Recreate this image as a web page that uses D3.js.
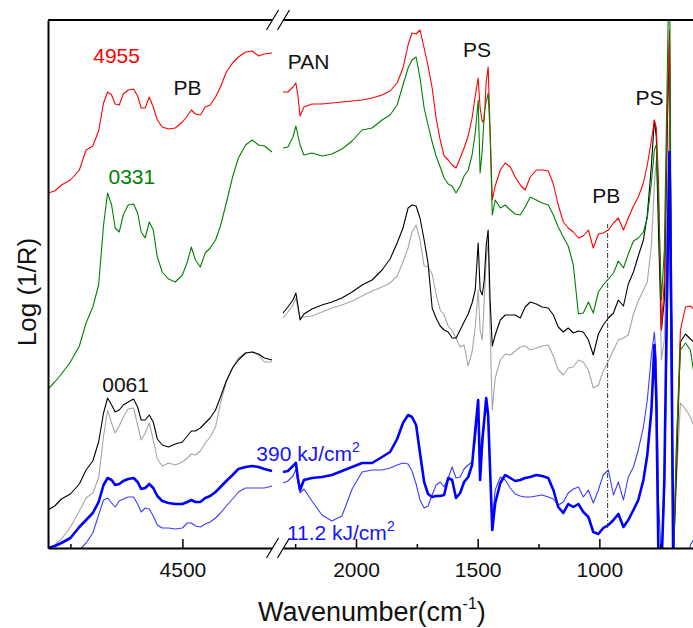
<!DOCTYPE html>
<html>
<head>
<meta charset="utf-8">
<script src="https://cdn.jsdelivr.net/npm/d3@7"></script>
<style>
  body { margin: 0; background: #fff; }
  svg { display: block; font-family: Arial, "Liberation Sans", sans-serif; }
</style>
</head>
<body>
<svg id="chart" width="693" height="628"></svg>
<script>
// wavenumber grids (cm-1) for the two parts of the broken axis
var wnLeft = [4800, 4785, 4770, 4750, 4730, 4715, 4700, 4687, 4676, 4667, 4658, 4650, 4641, 4632, 4621, 4609, 4600, 4592, 4583, 4574, 4565, 4556, 4545, 4531, 4516, 4500, 4489, 4480, 4471, 4460, 4449, 4438, 4426, 4415, 4402, 4388, 4375, 4359, 4344, 4330, 4317, 4300];
var wnRight = [2300, 2280, 2259, 2247, 2239, 2230, 2214, 2181, 2140, 2099, 2058, 2016, 1975, 1934, 1893, 1860, 1831, 1807, 1786, 1770, 1753, 1737, 1720, 1704, 1687, 1671, 1654, 1638, 1621, 1605, 1589, 1572, 1556, 1539, 1523, 1510, 1498, 1490, 1481, 1473, 1465, 1457, 1449, 1440, 1428, 1407, 1387, 1366, 1346, 1325, 1305, 1284, 1259, 1235, 1210, 1189, 1169, 1148, 1128, 1107, 1086, 1066, 1045, 1025, 1004, 984, 963, 942, 922, 901, 881, 860, 840, 819, 803, 786, 774, 766, 757, 745, 733, 720, 712, 704, 696, 683, 667, 646, 626, 601];

// Log(1/R), stacked, arbitrary units (x1000)
var red4955L = [355, 357, 363, 368, 378, 398, 402, 417, 445, 456, 453, 444, 443, 454, 458, 459, 452, 440, 440, 451, 441, 428, 421, 419, 420, 426, 432, 438, 434, 433, 441, 443, 451, 461, 476, 485, 491, 496, 497, 492, 494, 495];
var green0331L = [159, 166, 174, 186, 202, 225, 241, 263, 323, 355, 343, 320, 316, 333, 343, 344, 335, 316, 310, 326, 318, 291, 276, 269, 266, 273, 286, 301, 288, 281, 295, 300, 308, 322, 345, 371, 390, 403, 408, 403, 402, 396];
var black0061L = [38, 42, 49, 54, 64, 78, 87, 106, 135, 150, 143, 136, 138, 143, 146, 149, 141, 128, 128, 133, 126, 109, 103, 101, 104, 106, 112, 117, 117, 120, 125, 130, 138, 151, 167, 180, 188, 195, 196, 194, 190, 188];
var gray0061L = [0, 3, 9, 21, 37, 50, 55, 70, 112, 138, 125, 115, 122, 131, 139, 140, 123, 108, 115, 125, 108, 89, 82, 85, 83, 86, 90, 94, 93, 97, 105, 111, 121, 145, 166, 181, 190, 195, 196, 193, 186, 186];
var blue390L = [0, 2, 5, 10, 21, 28, 35, 46, 63, 70, 68, 63, 64, 67, 69, 70, 66, 59, 60, 64, 60, 52, 47, 45, 44, 44, 46, 48, 46, 46, 50, 52, 56, 61, 67, 73, 79, 81, 82, 81, 79, 77];
var blue11L = [-20, -15, -10, -6, -2, 5, 15, 33, 48, 50, 45, 41, 47, 49, 51, 51, 44, 36, 40, 39, 32, 23, 20, 20, 19, 20, 25, 25, 22, 21, 24, 26, 30, 35, 42, 49, 56, 60, 60, 60, 60, 62];

var red4955R = [456, 456, 461, 465, 453, 432, 441, 444, 444, 445, 446, 447, 448, 450, 453, 457, 465, 480, 503, 515, 514, 518, 500, 482, 460, 430, 408, 392, 388, 383, 380, 390, 400, 412, 430, 452, 470, 440, 426, 428, 466, 481, 418, 348, 362, 378, 385, 381, 371, 363, 358, 371, 378, 378, 377, 364, 343, 326, 320, 316, 310, 312, 318, 300, 314, 315, 318, 325, 330, 318, 330, 342, 351, 365, 383, 408, 428, 420, 368, 218, 268, 448, 518, 248, -12, 98, 218, 241, 242, 236];
var green0331R = [400, 401, 411, 422, 413, 403, 393, 395, 392, 394, 399, 407, 418, 420, 428, 433, 443, 463, 480, 488, 491, 470, 440, 423, 406, 392, 381, 370, 364, 362, 355, 362, 372, 378, 393, 415, 448, 375, 398, 435, 446, 455, 415, 333, 348, 340, 343, 338, 334, 333, 341, 351, 348, 345, 343, 333, 321, 311, 302, 283, 234, 235, 246, 235, 256, 263, 269, 275, 287, 280, 294, 307, 310, 316, 330, 366, 398, 403, 348, 248, 298, 488, 608, 248, -12, 108, 198, 205, 198, 158];
var black0061R = [235, 241, 248, 255, 243, 228, 234, 239, 243, 246, 250, 256, 263, 268, 278, 289, 305, 320, 340, 343, 342, 330, 308, 285, 240, 230, 222, 218, 216, 210, 210, 218, 226, 234, 245, 258, 305, 258, 253, 268, 303, 318, 248, 202, 213, 228, 233, 233, 233, 230, 241, 246, 244, 241, 240, 233, 221, 216, 220, 215, 217, 216, 208, 193, 214, 223, 230, 235, 248, 242, 264, 276, 292, 308, 333, 383, 428, 411, 318, 218, 248, 428, 508, 248, -12, 78, 206, 214, 209, 203];
var gray0061R = [230, 236, 243, 250, 240, 231, 231, 232, 236, 240, 243, 247, 252, 257, 261, 265, 272, 286, 300, 316, 323, 308, 282, 281, 274, 254, 238, 233, 222, 217, 210, 201, 203, 182, 196, 221, 258, 218, 208, 248, 288, 308, 218, 138, 170, 188, 194, 193, 197, 201, 202, 198, 200, 202, 203, 192, 178, 173, 180, 181, 188, 186, 178, 160, 163, 177, 187, 198, 208, 210, 213, 234, 247, 258, 266, 303, 363, 388, 328, 188, 208, 348, 428, 198, -12, 68, 145, 139, 131, 116];
var blue390R = [76, 77, 82, 85, 70, 58, 68, 70, 71, 73, 77, 81, 85, 85, 91, 96, 109, 125, 133, 131, 123, 95, 66, 54, 51, 52, 52, 53, 70, 68, 50, 55, 66, 71, 83, 118, 148, 68, 108, 128, 150, 133, 78, 18, 45, 65, 73, 70, 67, 68, 70, 71, 73, 72, 70, 58, 41, 35, 44, 41, 44, 36, 31, 16, 14, 20, 23, 28, 34, 21, 28, 38, 48, 68, 93, 138, 203, 148, -12, -22, 68, 288, 396, 228, -32, -52, -52, -42, -12, 8];
var blue11R = [65, 67, 72, 79, 66, 55, 59, 47, 33, 27, 32, 59, 76, 78, 78, 80, 83, 85, 84, 77, 64, 48, 40, 42, 53, 63, 66, 61, 70, 81, 70, 71, 79, 83, 86, 108, 138, 78, 98, 128, 143, 128, 78, 28, 58, 71, 68, 60, 54, 52, 51, 51, 52, 53, 51, 49, 43, 46, 55, 59, 61, 51, 58, 45, 58, 73, 78, 53, 66, 48, 71, 81, 98, 121, 148, 193, 216, 188, 48, -12, 48, 248, 348, 148, -32, -52, -42, -22, 3, 13];

var majorLeft = [4500], minorLeft = [4750];
var majorRight = [2000, 1500, 1000], minorRight = [2250, 1750, 1250, 750];

// text labels: [text, part, wavenumber, value, colour]
var labels = [
  ["4955", "L", 4699, 485, "#ff0000"],
  ["PB", "L", 4520, 453, "#111"],
  ["0331", "L", 4665, 364, "#008000"],
  ["0061", "L", 4679, 156, "#111"],
  ["PAN", "R", 2280, 479, "#111"],
  ["PS", "R", 1560, 491, "#111"],
  ["PS", "R", 852, 443, "#111"],
  ["PB", "R", 1029, 345, "#111"]
];
var doseLabels = [
  ["390 kJ/cm", "L", 4335, 87],
  ["11.2 kJ/cm", "R", 2284, 8]
];
var pbBand = { wn: 966, from: 20, to: 324 };

var svg = d3.select("#chart");
var xL = d3.scaleLinear().domain([4800, 4300]).range([48, 272]);
var xR = d3.scaleLinear().domain([2300, 600]).range([283, 696.7]);
var y = d3.scaleLinear().domain([0, 528]).range([548, 20]);
var xOf = function (part) { return part == "L" ? xL : xR; };

svg.append("defs").append("clipPath").attr("id", "plot")
  .append("rect").attr("x", 48).attr("y", 20).attr("width", 660).attr("height", 528);

var series = [
  { l: gray0061L, r: gray0061R, color: "#a6a6a6", w: 1.1 },
  { l: black0061L, r: black0061R, color: "#000", w: 1.1 },
  { l: red4955L, r: red4955R, color: "#ff0000", w: 1.1 },
  { l: green0331L, r: green0331R, color: "#008000", w: 1.1 },
  { l: blue11L, r: blue11R, color: "#3d3dff", w: 1.1 },
  { l: blue390L, r: blue390R, color: "#0000ff", w: 2.6 }
];

var curves = svg.append("g").attr("clip-path", "url(#plot)");
series.forEach(function (s) {
  [[wnLeft, s.l, xL], [wnRight, s.r, xR]].forEach(function (p) {
    var line = d3.line().x(function (d) { return p[2](d[0]); }).y(function (d) { return y(d[1]); });
    curves.append("path")
      .datum(d3.zip(p[0], p[1]))
      .attr("d", line)
      .attr("fill", "none")
      .attr("stroke", s.color)
      .attr("stroke-width", s.w)
      .attr("stroke-linejoin", "round");
  });
});

// PB band marker
curves.append("line")
  .attr("x1", xR(pbBand.wn)).attr("x2", xR(pbBand.wn))
  .attr("y1", y(pbBand.from)).attr("y2", y(pbBand.to))
  .attr("stroke", "#333").attr("stroke-width", 1)
  .attr("stroke-dasharray", "5,2,1,2");

// axes
function bottomAxis(scale, major, minor) {
  var g = svg.append("g").attr("transform", "translate(0,548)");
  g.call(d3.axisBottom(scale).tickValues(major).tickSize(-9).tickSizeOuter(0)
    .tickPadding(14).tickFormat(d3.format("d")));
  g.append("g").call(d3.axisBottom(scale).tickValues(minor).tickSize(-4).tickSizeOuter(0).tickFormat(""))
    .select(".domain").remove();
  g.selectAll(".domain").attr("stroke-width", 2);
  g.selectAll(".tick line").attr("stroke-width", 1.5);
  g.selectAll("text").attr("font-size", 21).attr("fill", "#111")
    .attr("font-family", "Arial, 'Liberation Sans', sans-serif");
}
bottomAxis(xL, majorLeft, minorLeft);
bottomAxis(xR, majorRight, minorRight);

svg.append("g").attr("transform", "translate(48,0)")
  .call(d3.axisLeft(y).tickValues([]).tickSizeOuter(0))
  .select(".domain").attr("stroke-width", 2);

[xL, xR].forEach(function (s) {
  svg.append("line").attr("x1", s.range()[0]).attr("x2", s.range()[1])
    .attr("y1", 20).attr("y2", 20).attr("stroke", "#000").attr("stroke-width", 2);
});

// axis break marks
[20, 548].forEach(function (cy) {
  [272.5, 283.5].forEach(function (cx) {
    svg.append("line").attr("x1", cx - 6).attr("y1", cy + 10).attr("x2", cx + 6).attr("y2", cy - 10)
      .attr("stroke", "#000").attr("stroke-width", 1.2);
  });
});

// labels
svg.selectAll("text.lab").data(labels).enter().append("text")
  .attr("class", "lab")
  .attr("x", function (d) { return xOf(d[1])(d[2]); })
  .attr("y", function (d) { return y(d[3]); })
  .attr("font-size", 21)
  .attr("fill", function (d) { return d[4]; })
  .text(function (d) { return d[0]; });

doseLabels.forEach(function (d) {
  var t = svg.append("text")
    .attr("x", xOf(d[1])(d[2])).attr("y", y(d[3]))
    .attr("font-size", 21).attr("fill", "#1515ff");
  t.append("tspan").text(d[0]);
  t.append("tspan").attr("font-size", 14).attr("dy", -9).text("2");
});

svg.append("text")
  .attr("transform", "translate(36,292) rotate(-90)")
  .attr("text-anchor", "middle")
  .attr("font-size", 26).attr("fill", "#111")
  .text("Log (1/R)");

var xt = svg.append("text").attr("x", 258).attr("y", 621)
  .attr("font-size", 27).attr("fill", "#111");
xt.append("tspan").text("Wavenumber(cm");
xt.append("tspan").attr("font-size", 16).attr("dy", -12).text("-1");
xt.append("tspan").attr("dy", 12).text(")");
</script>
</body>
</html>
